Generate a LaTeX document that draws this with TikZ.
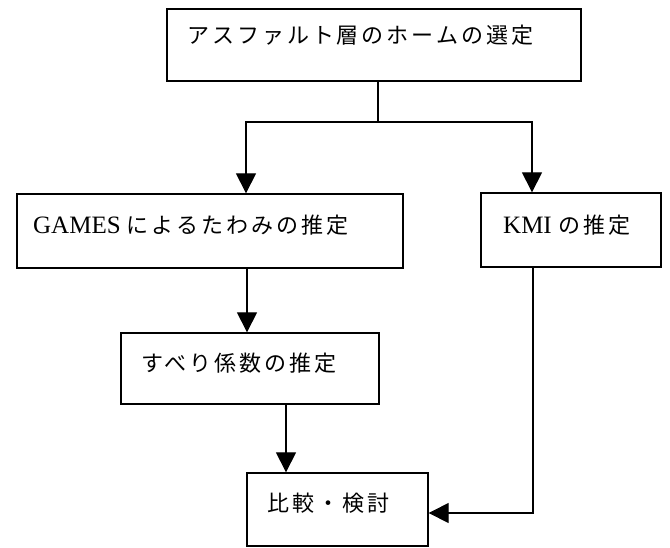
\documentclass[tikz,border=0pt]{standalone}
\usepackage{fontspec}
\setmainfont{Liberation Serif}
\newfontfamily\jp[LetterSpace=13.5]{Noto Sans CJK JP}
\usetikzlibrary{arrows.meta}
\newcommand\latn{\fontsize{25}{26}\selectfont}
\begin{document}
\begin{tikzpicture}[x=1pt,y=-1pt,
  box/.style={draw, line width=1.3pt, rectangle, inner sep=0pt},
  lbl/.style={anchor=west, inner sep=0pt, font=\fontsize{22}{26}\selectfont},
  conn/.style={line width=1.1pt},
  arr/.style={conn, -{Triangle[length=20pt,width=20pt]}}]
\useasboundingbox (0,0) rectangle (670,547);
\node[box, minimum width=414pt, minimum height=72pt] (top) at (374,45) {};
\node[box, minimum width=386pt, minimum height=74pt] (games) at (210,231) {};
\node[box, minimum width=180pt, minimum height=74pt] (kmi) at (571,230) {};
\node[box, minimum width=258pt, minimum height=71pt] (mid) at (250,368.5) {};
\node[box, minimum width=181pt, minimum height=73pt] (bot) at (337.5,509.5) {};
\node[lbl] (ttop) at (187,35) {\jp アスファルト層のホームの選定};
\node[lbl] (tgames) at (33,225) {{\latn GAMES }{\jp によるたわみの推定}};
\node[lbl] (tkmi) at (503,225) {{\latn KMI }{\jp の推定}};
\node[lbl] (tmid) at (141,363) {\jp すべり係数の推定};
\node[lbl] (tbot) at (267,503) {\jp 比較・検討};
\coordinate (split) at (378,122);
\coordinate (gx) at (246,0);
\coordinate (kx) at (532,0);
\coordinate (gm) at (247,0);
\coordinate (mb) at (286,0);
\coordinate (kb) at (533,513);
\draw[conn] (top.south -| split) -- (split);
\draw[arr] (split) -| (games.north -| gx);
\draw[arr] (split) -| (kmi.north -| kx);
\draw[arr] (games.south -| gm) -- (mid.north -| gm);
\draw[arr] (mid.south -| mb) -- (bot.north -| mb);
\draw[arr] (kmi.south -| kb) |- (bot.east |- kb);
\end{tikzpicture}
\end{document}
